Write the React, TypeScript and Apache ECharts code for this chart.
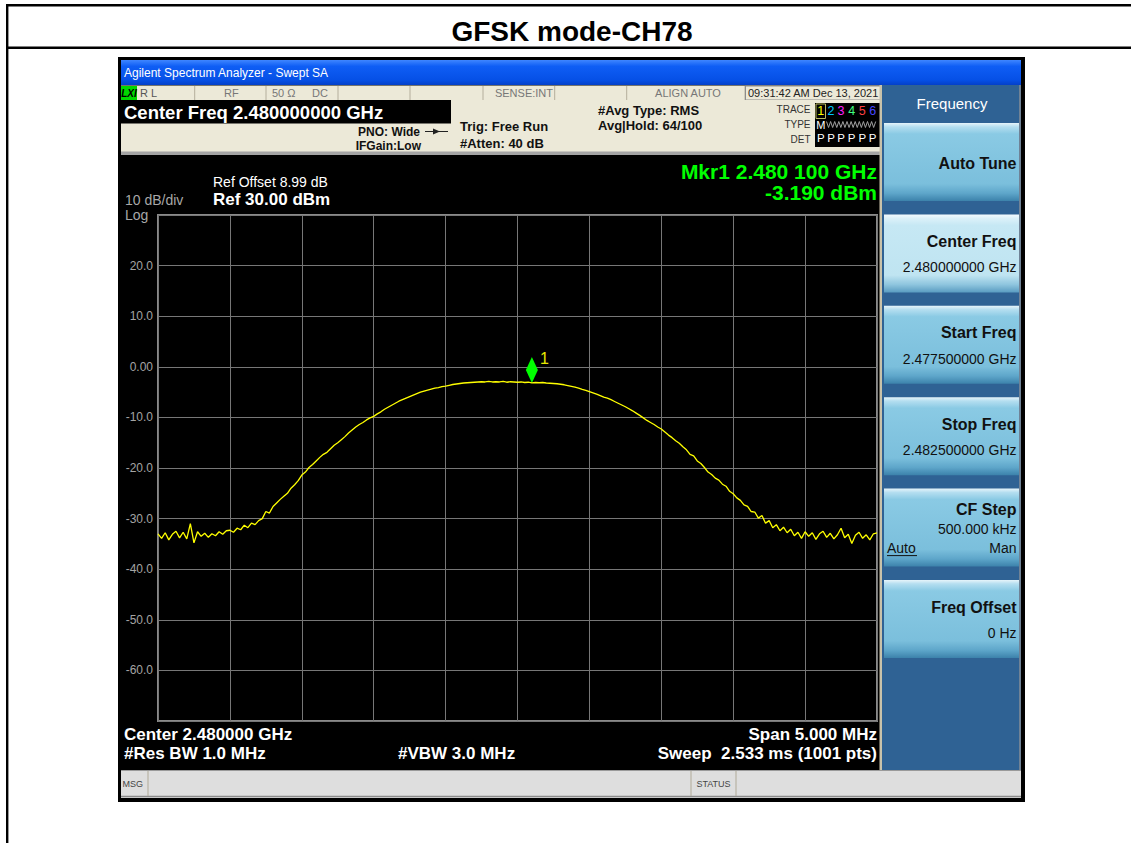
import React, { useEffect, useRef } from "react";
import * as echarts from "echarts";

const FONT = '"Liberation Sans", Arial, Helvetica, sans-serif';

const chartTitle = "GFSK mode-CH78";
const windowTitle = "Agilent Spectrum Analyzer - Swept SA";

const freqStartMHz = 2477.5;
const freqStopMHz = 2482.5;
const freqDivMHz = 0.5;
const freqStepMHz = 0.025;

const refLevelDbm = 30;
const bottomDbm = -70;
const dbPerDiv = 10;

// trace values (dBm), 2477.5 .. 2482.5 MHz every 25 kHz
const traceDbm = [
  -33.0, -33.9, -32.8, -34.2, -33.1, -32.5, -33.8, -32.7, -34.0, -31.0,
  -34.8, -32.6, -33.5, -32.9, -33.7, -33.0, -33.4, -32.6, -33.1, -32.4,
  -32.3, -32.7, -31.9, -32.2, -31.3, -31.8, -30.9, -31.2, -30.4, -30.0,
  -28.6, -28.9, -27.6, -26.9, -26.2, -25.6, -25.0, -24.0, -23.3, -22.5,
  -21.4, -20.8, -19.9, -19.3, -18.6, -17.9, -17.3, -16.9, -16.2, -15.5,
  -15.0, -14.4, -13.8, -13.1, -12.5, -11.9, -11.4, -11.0, -10.5, -10.1,
  -9.8, -9.3, -8.9, -8.4, -8.0, -7.6, -7.2, -6.8, -6.5, -6.2,
  -5.9, -5.6, -5.3, -5.0, -4.8, -4.6, -4.4, -4.2, -4.1, -3.9,
  -3.8, -3.65, -3.5, -3.4, -3.3, -3.2, -3.15, -3.1, -3.05, -3.0,
  -2.95, -3.0, -2.9, -3.0, -2.95, -3.0, -2.9, -3.05, -2.95, -3.0,
  -3.05, -3.0, -3.1, -3.05, -3.19, -3.1, -3.15, -3.1, -3.2, -3.25,
  -3.3, -3.35, -3.45, -3.55, -3.7, -3.85, -4.0, -4.2, -4.45, -4.65,
  -4.9, -5.15, -5.4, -5.7, -6.0, -6.2, -6.5, -6.85, -7.2, -7.55,
  -7.9, -8.3, -8.7, -9.15, -9.6, -10.1, -10.6, -11.0, -11.4, -11.9,
  -12.3, -12.9, -13.5, -14.0, -14.6, -15.1, -15.8, -16.4, -17.3, -17.6,
  -18.6, -19.1, -19.9, -20.8, -21.3, -22.0, -22.4, -23.2, -23.6, -24.6,
  -25.1, -25.9, -26.4, -27.3, -27.6, -28.6, -28.7, -29.9, -29.4, -30.9,
  -30.4, -31.8, -31.2, -32.4, -31.7, -32.8, -32.1, -33.4, -32.7, -33.9,
  -32.6, -33.5, -32.8, -34.1, -33.0, -32.5, -33.7, -32.9, -34.0, -33.2,
  -31.9, -33.8, -33.1, -34.9, -33.3, -32.7, -33.9, -33.2, -34.2, -33.0,
  -32.8,
];

// y tick labels from ref level (30) downwards to -70
const yTickLabels = ["", "20.0", "10.0", "0.00", "-10.0", "-20.0", "-30.0", "-40.0", "-50.0", "-60.0", ""];

const markerFreqMHz = 2480.1;
const markerDbm = -3.19;
const markerName = "1";
const markerLines = ["Mkr1 2.480 100 GHz", "-3.190 dBm"];

const statusTexts = ["R L", "RF", "50 Ω", "DC", "SENSE:INT", "ALIGN AUTO"];
const timeStamp = "09:31:42 AM Dec 13, 2021";
const headerCenterFreq = "Center Freq 2.480000000 GHz";
const pnoLines = ["PNO: Wide", "IFGain:Low"];
const trigLines = ["Trig: Free Run", "#Atten: 40 dB"];
const avgLines = ["#Avg Type: RMS", "Avg|Hold: 64/100"];
const traceNumbers = ["1", "2", "3", "4", "5", "6"];
const traceColors = ["#ffff00", "#00c8ff", "#ff20ff", "#40ff80", "#ff4040", "#4848ff"];
const traceTypeLabels = ["TRACE", "TYPE", "DET"];
const refLines = ["Ref Offset 8.99 dB", "Ref 30.00 dBm"];
const scaleLines = ["10 dB/div", "Log"];
const footerLeft = ["Center 2.480000 GHz", "#Res BW 1.0 MHz"];
const footerMid = "#VBW 3.0 MHz";
const footerRight = ["Span 5.000 MHz", "Sweep  2.533 ms (1001 pts)"];
const menuTitle = "Frequency";
const softKeyLabels = ["Auto Tune", "Center Freq", "Start Freq", "Stop Freq", "CF Step", "Freq Offset"];
const softKeyValues = ["", "2.480000000 GHz", "2.477500000 GHz", "2.482500000 GHz", "500.000 kHz", "0 Hz"];
const cfStepModes = ["Auto", "Man"];
const msgBarTexts = ["MSG", "STATUS"];

function buildGraphics() {
  const g: any[] = [];
  const rect = (x: number, y: number, w: number, h: number, fill: any, extra: any = {}) =>
    g.push({ type: "rect", silent: true, shape: { x, y, width: w, height: h }, style: { fill, ...extra } });
  const line = (x1: number, y1: number, x2: number, y2: number, stroke: string, lw = 1) =>
    g.push({ type: "line", silent: true, shape: { x1, y1, x2, y2 }, style: { stroke, lineWidth: lw } });
  const text = (
    x: number, y: number, s: string, size: number, fill: string,
    opts: { align?: string; weight?: string; style?: string; family?: string } = {}
  ) =>
    g.push({
      type: "text", silent: true, x, y,
      style: {
        text: s, fill, fontSize: size, fontWeight: opts.weight || "normal",
        fontStyle: opts.style || "normal",
        fontFamily: opts.family || FONT, align: opts.align || "left", verticalAlign: "middle",
      },
    });

  // outer table frame
  rect(6, 4, 1125, 2.4, "#000");
  rect(6, 46.6, 1125, 2.4, "#000");
  rect(6, 4, 2.4, 839, "#000");
  text(572, 31, chartTitle, 28, "#000", { align: "center", weight: "bold" });

  // screenshot frame
  rect(118, 57, 907, 745, "#000");
  rect(121, 60, 900, 25, new echarts.graphic.LinearGradient(0, 0, 0, 1, [
    { offset: 0, color: "#3f86ff" },
    { offset: 0.25, color: "#0f5ef5" },
    { offset: 0.8, color: "#0650e6" },
    { offset: 1, color: "#0440c8" },
  ]));
  text(124, 72.5, windowTitle, 12, "#ffffff");

  // status row
  rect(121, 85.5, 760, 14.5, "#ece9d8");
  [194.7, 266, 338, 410, 483, 554.7, 626.7, 745].forEach((x) => line(x, 86, x, 100, "#b4ae9c", 1));
  rect(121, 86, 16, 14, "#00d800");
  text(129, 93, "LXI", 10, "#000", { align: "center", weight: "bold", style: "italic" });
  text(140, 93, statusTexts[0], 11, "#555");
  text(224, 93, statusTexts[1], 11, "#777");
  text(272, 93, statusTexts[2], 11, "#777");
  text(312, 93, statusTexts[3], 11, "#777");
  text(553, 93, statusTexts[4], 11, "#777", { align: "right" });
  text(688, 93, statusTexts[5], 11, "#777", { align: "center" });
  rect(745.5, 86, 135, 14, "#ece9d8", { stroke: "#8c8c8c", lineWidth: 1 });
  text(748, 93, timeStamp, 11, "#222");

  // header row
  rect(121, 100, 760, 52, "#ece9d8");
  rect(121, 100, 330, 23.5, "#000");
  text(124, 112, headerCenterFreq, 18.5, "#fff", { weight: "bold" });
  text(420, 131.5, pnoLines[0], 12, "#111", { align: "right", weight: "bold" });
  text(421, 145.5, pnoLines[1], 12, "#111", { align: "right", weight: "bold" });
  line(425, 131.5, 448, 131.5, "#222", 1);
  g.push({ type: "polygon", silent: true, shape: { points: [[433, 128.5], [440, 131.5], [433, 134.5]] }, style: { fill: "#222" } });
  text(460, 126.5, trigLines[0], 13, "#111", { weight: "bold" });
  text(460, 143.5, trigLines[1], 13, "#111", { weight: "bold" });
  text(598, 110, avgLines[0], 13, "#111", { weight: "bold" });
  text(598, 125, avgLines[1], 13, "#111", { weight: "bold" });
  text(810.5, 109, traceTypeLabels[0], 10, "#333", { align: "right" });
  text(810.5, 124.5, traceTypeLabels[1], 10, "#333", { align: "right" });
  text(810.5, 139.5, traceTypeLabels[2], 10, "#333", { align: "right" });
  rect(815, 103, 66, 44, "#000");
  rect(816, 104, 9.5, 14.5, "none", { stroke: "#b8b860", lineWidth: 1 });
  const tx = [820.8, 831, 841, 851.7, 862.3, 872.7];
  traceNumbers.forEach((n, i) => text(tx[i], 111, n, 12.5, traceColors[i], { align: "center" }));
  text(820.8, 124.5, "M", 11, "#fff", { align: "center" });
  const zig: number[][] = [];
  for (let k = 0; k <= 24; k++) zig.push([826.5 + k * 2.05, k % 2 === 0 ? 121.5 : 127.5]);
  g.push({ type: "polyline", silent: true, shape: { points: zig }, style: { stroke: "#a0a0a0", lineWidth: 1, fill: "none" } });
  tx.forEach((x) => text(x, 138, "P", 11.5, "#fff", { align: "center" }));
  rect(121, 151.5, 760, 3.5, "#a4a4a4");

  // display texts
  text(877, 171, markerLines[0], 21, "#00ff00", { align: "right", weight: "bold" });
  text(877, 192, markerLines[1], 21, "#00ff00", { align: "right", weight: "bold" });
  text(213, 181.5, refLines[0], 14, "#fff");
  text(213, 199, refLines[1], 17, "#fff", { weight: "bold" });
  text(125, 199.5, scaleLines[0], 14, "#a8a8a8");
  text(125, 214.5, scaleLines[1], 14, "#a8a8a8");
  text(124, 734, footerLeft[0], 17, "#fff", { weight: "bold" });
  text(124, 753.5, footerLeft[1], 17, "#fff", { weight: "bold" });
  text(398, 753.5, footerMid, 17, "#fff", { weight: "bold" });
  text(877, 734, footerRight[0], 17, "#fff", { align: "right", weight: "bold" });
  text(877, 753.5, footerRight[1], 17, "#fff", { align: "right", weight: "bold" });

  // soft key panel
  rect(879.5, 85, 2.5, 685, "#c9c2aa");
  rect(882, 85, 139, 685, "#2f6294");
  rect(1019, 85, 2, 685, "#6f8296");
  text(952, 103.5, menuTitle, 15, "#fff", { align: "center" });
  const normal = new echarts.graphic.LinearGradient(0, 0, 0, 1, [
    { offset: 0, color: "#e6f4fa" },
    { offset: 0.05, color: "#b4def0" },
    { offset: 0.14, color: "#8acae4" },
    { offset: 0.78, color: "#7bbfdc" },
    { offset: 0.9, color: "#5ea6ca" },
    { offset: 1, color: "#3c82ab" },
  ]);
  const selected = new echarts.graphic.LinearGradient(0, 0, 0, 1, [
    { offset: 0, color: "#f4fbfe" },
    { offset: 0.05, color: "#dcf1f9" },
    { offset: 0.14, color: "#c6e8f4" },
    { offset: 0.78, color: "#bfe4f1" },
    { offset: 0.9, color: "#8ec5de" },
    { offset: 1, color: "#5a9cc1" },
  ]);
  softKeyLabels.forEach((lab, k) => {
    const top = 123 + k * 91.4;
    rect(884, top, 135, 78, k === 1 ? selected : normal);
    const right = 1016.5;
    if (k === 0) {
      text(right, top + 40, lab, 16, "#111", { align: "right", weight: "bold" });
    } else if (k === 4) {
      text(right, top + 21, lab, 16, "#111", { align: "right", weight: "bold" });
      text(right, top + 40, softKeyValues[k], 14, "#111", { align: "right" });
      text(887, top + 59, cfStepModes[0], 14, "#111");
      line(887, top + 67, 917, top + 67, "#111", 1);
      text(right, top + 59, cfStepModes[1], 14, "#111", { align: "right" });
    } else {
      text(right, top + 27, lab, 16, "#111", { align: "right", weight: "bold" });
      text(right, top + 53, softKeyValues[k], 14, "#111", { align: "right" });
    }
  });

  // message bar
  rect(121, 770, 900, 28, "#dedede");
  line(121, 770.5, 1021, 770.5, "#9a9a9a", 1);
  line(121, 796.5, 1021, 796.5, "#8a8a8a", 1.5);
  [148, 691, 736].forEach((x) => line(x, 771, x, 796, "#b0aa98", 1));
  text(122.5, 784, msgBarTexts[0], 9, "#444");
  text(713.5, 784, msgBarTexts[1], 9, "#444", { align: "center" });
  return g;
}

export default function App() {
  const ref = useRef<HTMLDivElement>(null);
  useEffect(() => {
    if (!ref.current) return;
    const chart = echarts.init(ref.current, undefined, { renderer: "svg" });
    const data = traceDbm.map((v, i) => [+(freqStartMHz + i * freqStepMHz).toFixed(3), v]);
    chart.setOption({
      animation: false,
      backgroundColor: "#ffffff",
      grid: {
        left: 158, top: 215, width: 719, height: 506, show: true,
        backgroundColor: "#000", borderColor: "#8a8a8a", borderWidth: 2, z: 3,
      },
      xAxis: {
        type: "value", min: freqStartMHz, max: freqStopMHz, interval: freqDivMHz, z: 4,
        axisLabel: { show: false }, axisTick: { show: false }, axisLine: { show: false },
        splitLine: { show: true, lineStyle: { color: "#777", width: 1 } },
      },
      yAxis: {
        type: "value", min: bottomDbm, max: refLevelDbm, interval: dbPerDiv, z: 4,
        axisTick: { show: false }, axisLine: { show: false },
        splitLine: { show: true, lineStyle: { color: "#777", width: 1 } },
        axisLabel: {
          color: "#a4a4a4", fontSize: 12, fontFamily: FONT, margin: 5,
          formatter: (v: number) => yTickLabels[Math.round((refLevelDbm - v) / dbPerDiv)] ?? "",
        },
      },
      series: [
        {
          type: "line", data, showSymbol: false, z: 10, silent: true,
          lineStyle: { color: "#ffff00", width: 1.3 },
          markPoint: {
            silent: true, symbol: "diamond", symbolSize: [12, 26], symbolOffset: [0, -13],
            itemStyle: { color: "#00ff00" },
            label: {
              show: true, formatter: markerName, position: [14, -6],
              color: "#e8e800", fontSize: 16, fontFamily: FONT,
            },
            data: [{ coord: [markerFreqMHz, markerDbm] }],
          },
        },
      ],
      graphic: buildGraphics(),
    });
    return () => chart.dispose();
  }, []);
  return (
    <div
      ref={ref}
      style={{ position: "fixed", left: 0, top: 0, width: 1131, height: 843, background: "#fff" }}
    />
  );
}
